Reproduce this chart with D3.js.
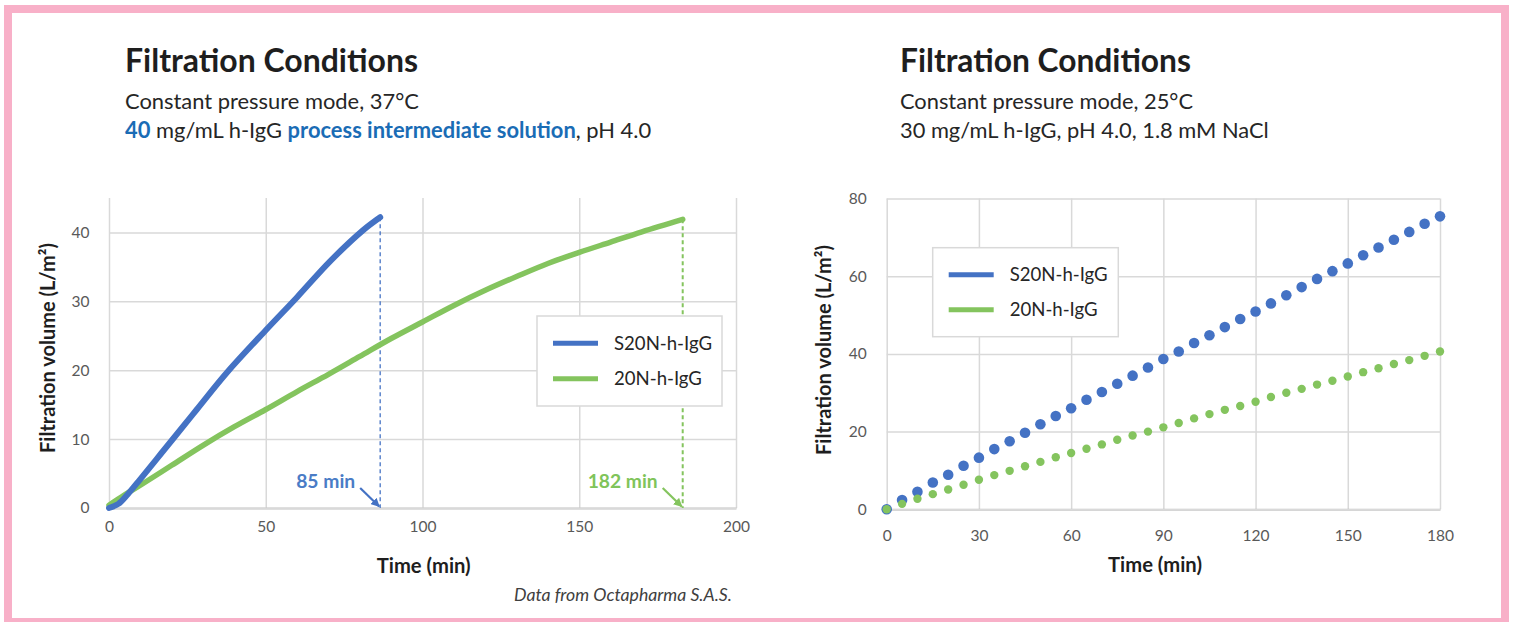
<!DOCTYPE html>
<html>
<head>
<meta charset="utf-8">
<script src="https://cdn.jsdelivr.net/npm/d3@7"></script>
<style>
  body { margin: 0; background: #fff; }
  svg { display: block; }
  text { font-family: Lato, "Open Sans", sans-serif; }
</style>
</head>
<body>
<svg id="c" width="1513" height="622"></svg>
<script>
// ---------------- DATA ----------------
// Left chart: 40 mg/mL, 37°C (continuous curves)
const leftS20NTime   = [0, 3, 6, 10, 15, 20, 28, 37.5, 50, 60, 70.5, 81, 86.5];
const leftS20NVolume = [0, 0.6, 2.0, 4.2, 7.0, 9.8, 14.3, 19.6, 25.8, 30.6, 35.8, 40.3, 42.2];
const left20NTime    = [0, 5, 10, 20, 30, 40, 50, 60, 70, 80, 90, 100, 110, 120, 130, 140, 150, 160, 170, 183];
const left20NVolume  = [0.4, 1.9, 3.3, 6.2, 9.1, 11.8, 14.3, 16.9, 19.4, 22.0, 24.6, 27.0, 29.4, 31.6, 33.6, 35.5, 37.1, 38.6, 40.1, 41.9];
const leftEndTimes   = [86.5, 183];
const leftEndLabels  = ["85 min", "182 min"];
const leftXTicks = [0, 50, 100, 150, 200];
const leftYTicks = [0, 10, 20, 30, 40];

// Right chart: 30 mg/mL, 25°C (points every 5 min)
const rightTimes = [0, 5, 10, 15, 20, 25, 30, 35, 40, 45, 50, 55, 60, 65, 70, 75, 80, 85, 90,
                    95, 100, 105, 110, 115, 120, 125, 130, 135, 140, 145, 150, 155, 160, 165, 170, 175, 180];
const rightS20N = [0, 2.4, 4.5, 6.9, 8.9, 11.2, 13.3, 15.5, 17.5, 19.7, 21.9, 24.0, 26.0, 28.2, 30.2, 32.3, 34.4, 36.5, 38.7,
                   40.6, 42.8, 44.8, 46.9, 49.0, 50.9, 53.0, 55.1, 57.2, 59.3, 61.3, 63.3, 65.4, 67.4, 69.4, 71.4, 73.5, 75.4];
const right20N  = [0, 1.4, 2.7, 3.9, 5.1, 6.3, 7.6, 8.8, 9.9, 11.1, 12.2, 13.4, 14.5, 15.6, 16.7, 17.9, 19.0, 20.0, 21.1,
                   22.2, 23.4, 24.5, 25.6, 26.6, 27.7, 28.9, 30.0, 31.0, 32.1, 33.1, 34.2, 35.3, 36.3, 37.4, 38.4, 39.5, 40.6];
const rightXTicks = [0, 30, 60, 90, 120, 150, 180];
const rightYTicks = [0, 20, 40, 60, 80];

const seriesNames = ["S20N-h-IgG", "20N-h-IgG"];

// ---------------- STYLE ----------------
const BLUE = "#4472c4", GREEN = "#84c45e";
const BLUE_TXT = "#1a6cb5";
const GRID = "#d9d9d9", AXIS = "#c4c4c4", TICK = "#595959", DARK = "#1e1e1e";

const svg = d3.select("#c");

function fit(t, w) {
  const L = t.node().getComputedTextLength();
  const fs = parseFloat(t.attr("font-size"));
  t.attr("font-size", (fs * w / L).toFixed(2));
  return t;
}

// pink frame
svg.append("rect").attr("x", 8).attr("y", 9).attr("width", 1497).attr("height", 613)
  .attr("fill", "none").attr("stroke", "#f8b0c8").attr("stroke-width", 8);

// ---------------- HEADERS ----------------
function header(x, line2Parts, line1, titleW, sub1W) {
  fit(svg.append("text").attr("x", x).attr("y", 71.7).attr("font-size", 30).attr("font-weight", 700)
    .attr("fill", DARK).text("Filtration Conditions"), titleW);
  const s1 = fit(svg.append("text").attr("x", x).attr("y", 109).attr("font-size", 20)
    .attr("fill", "#262626").text(line1), sub1W);
  const t2 = svg.append("text").attr("x", x).attr("y", 138).attr("font-size", s1.attr("font-size")).attr("fill", "#262626");
  line2Parts.forEach(p => {
    t2.append("tspan").text(p.t).attr("font-weight", p.b ? 700 : 400).attr("fill", p.c || "#262626");
  });
}
header(125, [
  { t: "40", b: true, c: BLUE_TXT },
  { t: " mg/mL h-IgG " },
  { t: "process intermediate solution", b: true, c: BLUE_TXT },
  { t: ", pH 4.0" }
], "Constant pressure mode, 37°C", 293, 294);
header(900, [{ t: "30 mg/mL h-IgG, pH 4.0, 1.8 mM NaCl" }], "Constant pressure mode, 25°C", 291, 293);

// ---------------- AXES / GRID ----------------
function frame(x, y, xt, yt, xLabelDy, yLabelPad, yTitle, xTitle) {
  const [x0, x1] = x.range();
  const [yb, ytop] = y.range();
  const g = svg.append("g");
  const ya = g.append("g").attr("transform", `translate(${x0},0)`)
    .call(d3.axisLeft(y).tickValues(yt).tickSize(-(x1 - x0)).tickSizeOuter(0).tickPadding(yLabelPad));
  ya.select(".domain").remove();
  ya.selectAll("line").attr("stroke", GRID).attr("stroke-width", 1.5);
  ya.selectAll("text").attr("fill", TICK).attr("font-size", 15.5).attr("font-family", "Lato, sans-serif");
  const xa = g.append("g").attr("transform", `translate(0,${yb})`)
    .call(d3.axisBottom(x).tickValues(xt).tickSize(-(yb - ytop)).tickSizeOuter(0).tickPadding(0));
  xa.select(".domain").attr("stroke", AXIS).attr("stroke-width", 2);
  xa.selectAll("line").attr("stroke", GRID).attr("stroke-width", 1.5);
  xa.selectAll("text").attr("fill", TICK).attr("font-size", 15.5).attr("font-family", "Lato, sans-serif")
    .attr("y", xLabelDy).attr("dy", "0.35em");
  xa.raise();
  ya.raise();
  xa.select(".domain").raise();
  fit(svg.append("text").attr("transform", `translate(${yTitle.x},${yTitle.y}) rotate(-90)`)
    .attr("text-anchor", "middle").attr("dy", "0.35em").attr("font-size", 17).attr("font-weight", 700)
    .attr("fill", DARK).text("Filtration volume (L/m²)"), 210);
  fit(svg.append("text").attr("x", xTitle.x).attr("y", xTitle.y).attr("text-anchor", "middle").attr("dy", "0.35em")
    .attr("font-size", 17).attr("font-weight", 700).attr("fill", DARK).text("Time (min)"), 94);
}

function legend(x, y, w, h, lineGap, markerW) {
  const g = svg.append("g").attr("transform", `translate(${x},${y})`);
  g.append("rect").attr("width", w).attr("height", h).attr("fill", "#fff").attr("stroke", "#d9d9d9").attr("stroke-width", 1.5);
  const rows = [{ n: seriesNames[0], c: BLUE }, { n: seriesNames[1], c: GREEN }];
  let fs = null;
  rows.forEach((r, i) => {
    const cy = h / 2 - lineGap / 2 + i * lineGap;
    g.append("line").attr("x1", 16).attr("x2", 16 + markerW).attr("y1", cy).attr("y2", cy)
      .attr("stroke", r.c).attr("stroke-width", 5);
    const t = g.append("text").attr("x", 16 + markerW + 16).attr("y", cy).attr("dy", "0.35em")
      .attr("font-size", fs || 17).attr("fill", "#262626").text(r.n);
    if (!fs) { fit(t, 98); fs = t.attr("font-size"); }
  });
}

// ---------------- LEFT CHART ----------------
const xL = d3.scaleLinear().domain([0, 200]).range([109, 736]);
const yL = d3.scaleLinear().domain([0, 45]).range([508, 198]);
frame(xL, yL, leftXTicks, leftYTicks, 18.7, 19.5, { x: 48, y: 348 }, { x: 423.7, y: 566 });

const lineL = d3.line().x(d => xL(d[0])).y(d => yL(d[1])).curve(d3.curveCatmullRom.alpha(0.5));
const s20nPts = leftS20NTime.map((t, i) => [t, leftS20NVolume[i]]);
const n20Pts = left20NTime.map((t, i) => [t, left20NVolume[i]]);

const endColors = [BLUE, GREEN];
const endVals = [leftS20NVolume[leftS20NVolume.length - 1], left20NVolume[left20NVolume.length - 1]];
leftEndTimes.forEach((t, i) => {
  svg.append("line").attr("x1", xL(t)).attr("x2", xL(t)).attr("y1", yL(endVals[i])).attr("y2", yL(0))
    .attr("stroke", endColors[i]).attr("stroke-width", i ? 2 : 1.3).attr("stroke-dasharray", "4,3");
});

svg.append("path").attr("d", lineL(n20Pts)).attr("fill", "none").attr("stroke", GREEN)
  .attr("stroke-width", 5.5).attr("stroke-linecap", "round").attr("stroke-linejoin", "round");
svg.append("path").attr("d", lineL(s20nPts)).attr("fill", "none").attr("stroke", BLUE)
  .attr("stroke-width", 6).attr("stroke-linecap", "round").attr("stroke-linejoin", "round");

const defs = svg.append("defs");
endColors.forEach((c, i) => {
  defs.append("marker").attr("id", "arr" + i).attr("viewBox", "0 0 10 10").attr("refX", 9).attr("refY", 5)
    .attr("markerWidth", 4).attr("markerHeight", 4).attr("orient", "auto").attr("markerUnits", "strokeWidth")
    .append("path").attr("d", "M0,0 L10,5 L0,10 Z").attr("fill", c);
});
const labelColors = ["#4a7cc6", "#80c45a"];
const labelW = [59, 70];
leftEndTimes.forEach((t, i) => {
  const ex = xL(t), ey = yL(0);
  svg.append("line").attr("x1", ex - 20).attr("y1", ey - 20).attr("x2", ex - 1).attr("y2", ey - 1.5)
    .attr("stroke", endColors[i]).attr("stroke-width", 2.2).attr("marker-end", `url(#arr${i})`);
  fit(svg.append("text").attr("x", ex - 25).attr("y", ey - 26.5).attr("dy", "0.35em").attr("text-anchor", "end")
    .attr("font-size", 17).attr("font-weight", 700).attr("fill", labelColors[i]).text(leftEndLabels[i]), labelW[i]);
});

legend(537, 316, 185, 90, 35.5, 45);

fit(svg.append("text").attr("x", 514).attr("y", 595).attr("dy", "0.35em").attr("font-size", 14)
  .attr("font-style", "italic").attr("fill", "#404040").text("Data from Octapharma S.A.S."), 218);

// ---------------- RIGHT CHART ----------------
const xR = d3.scaleLinear().domain([0, 180]).range([886.7, 1440]);
const yR = d3.scaleLinear().domain([0, 80]).range([509.3, 198.5]);
frame(xR, yR, rightXTicks, rightYTicks, 26.7, 20, { x: 824, y: 350 }, { x: 1155, y: 565 });

svg.append("g").selectAll("circle").data(rightTimes.map((t, i) => [t, rightS20N[i]])).join("circle")
  .attr("cx", d => xR(d[0])).attr("cy", d => yR(d[1])).attr("r", 5.3).attr("fill", BLUE);
svg.append("g").selectAll("circle").data(rightTimes.map((t, i) => [t, right20N[i]])).join("circle")
  .attr("cx", d => xR(d[0])).attr("cy", d => yR(d[1])).attr("r", 4.2).attr("fill", GREEN);

legend(932.7, 247.7, 185.6, 89, 35, 45);
</script>
</body>
</html>
